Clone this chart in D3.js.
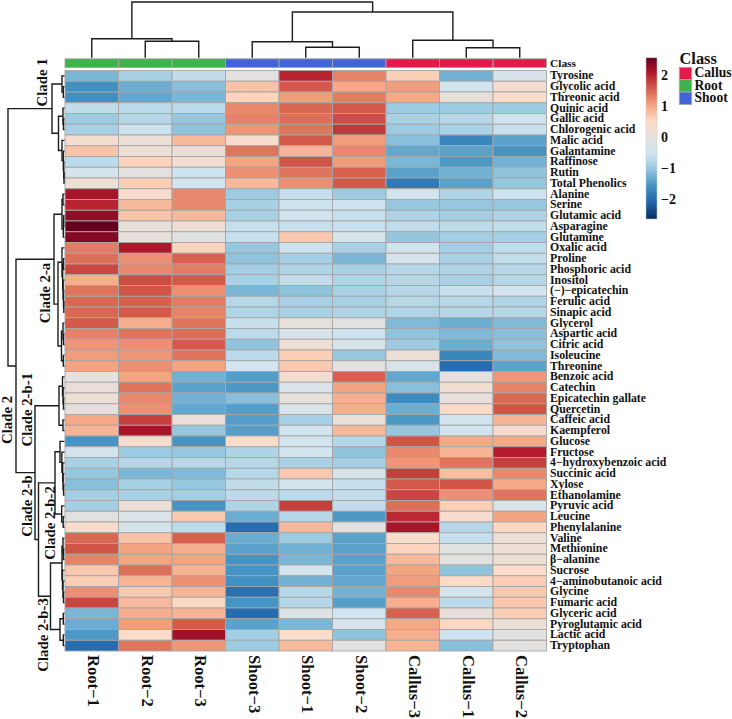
<!DOCTYPE html>
<html>
<head>
<meta charset="utf-8">
<script src="https://cdn.jsdelivr.net/npm/d3@7"></script>
<style>
body { margin: 0; background: #fff; }
svg { display: block; }
text { font-family: "Liberation Serif", serif; font-weight: bold; fill: #111; }
</style>
</head>
<body>
<svg id="canvas"></svg>
<script>
let colLabels = ['Root−1', 'Root−2', 'Root−3', 'Shoot−3', 'Shoot−1', 'Shoot−2', 'Callus−3', 'Callus−1', 'Callus−2']
let colClass = ['Root', 'Root', 'Root', 'Shoot', 'Shoot', 'Shoot', 'Callus', 'Callus', 'Callus']

let rowLabels = ['Tyrosine', 'Glycolic acid', 'Threonic acid', 'Quinic acid', 'Gallic acid', 'Chlorogenic acid',
	'Malic acid', 'Galantamine', 'Raffinose', 'Rutin', 'Total Phenolics', 'Alanine', 'Serine', 'Glutamic acid',
	'Asparagine', 'Glutamine', 'Oxalic acid', 'Proline', 'Phosphoric acid', 'Inositol', '(−)−epicatechin',
	'Ferulic acid', 'Sinapic acid', 'Glycerol', 'Aspartic acid', 'Citric acid', 'Isoleucine', 'Threonine',
	'Benzoic acid', 'Catechin', 'Epicatechin gallate', 'Quercetin', 'Caffeic acid', 'Kaempferol', 'Glucose',
	'Fructose', '4−hydroxybenzoic acid', 'Succinic acid', 'Xylose', 'Ethanolamine', 'Pyruvic acid', 'Leucine',
	'Phenylalanine', 'Valine', 'Methionine', 'β−alanine', 'Sucrose', '4−aminobutanoic acid', 'Glycine',
	'Fumaric acid', 'Glyceric acid', 'Pyroglutamic acid', 'Lactic acid', 'Tryptophan']

// one line per metabolite, same order as colLabels
let values = [
	[-1.2, -0.85, -0.65, 0, 2.0, 1.3, 0.65, -1.25, -0.3],
	[-1.6, -1.3, -1.1, 0.75, 1.6, 1.0, 1.1, -0.5, 0.35],
	[-1.6, -1.35, -1.2, 0.6, 1.1, 1.35, 1.0, 0.1, 0.45],
	[-0.65, -0.7, -0.7, 1.25, 1.5, 1.6, -0.95, -0.95, -0.95],
	[-0.95, -0.75, -1.0, 1.3, 1.45, 1.7, -0.85, -0.75, -0.55],
	[-0.85, -0.55, -1.05, 1.15, 1.4, 1.85, -0.95, -0.85, -0.6],
	[0.35, 0.2, 0.85, 0.4, 1.6, 1.1, -1.1, -1.7, -1.4],
	[0.75, 0.2, 0.15, 1.4, 0.9, 1.25, -1.35, -1.4, -1.55],
	[-0.7, 0.6, 0.3, 1.05, 1.65, 1.1, -1.2, -1.5, -1.25],
	[-0.4, 0, -0.55, 1.2, 1.4, 1.55, -1.4, -1.25, -1.05],
	[0.25, 0.65, -0.45, 0.85, 1.2, 1.6, -1.85, -1.4, -1.0],
	[2.15, 0.4, 1.25, -0.95, -0.6, -0.95, -0.5, -0.8, -0.55],
	[2.0, 0.85, 1.25, -0.85, -0.55, -0.55, -1.0, -1.0, -1.0],
	[2.3, 0.75, 0.85, -0.85, -0.5, -0.6, -0.8, -0.9, -0.8],
	[2.6, 0.1, 0.25, -0.6, -0.6, -0.6, -0.65, -0.7, -0.65],
	[2.4, 0.1, -0.05, -0.6, 0.7, -0.35, -1.0, -0.9, -0.9],
	[1.35, 2.1, 0.6, -1.0, -0.55, -0.85, -0.45, -0.9, -0.65],
	[1.45, 1.2, 1.55, -1.05, -0.9, -1.2, -0.4, -0.85, -0.65],
	[1.75, 1.25, 1.35, -0.9, -0.8, -0.85, -0.75, -0.8, -0.75],
	[0.95, 1.7, 1.6, -0.85, -0.65, -0.8, -0.75, -0.85, -0.75],
	[1.4, 1.65, 1.2, -1.2, -1.05, -0.85, -0.75, -0.6, -0.45],
	[1.5, 1.55, 1.35, -0.75, -0.85, -0.85, -0.75, -0.75, -0.8],
	[1.5, 1.6, 1.3, -0.8, -0.85, -0.8, -0.8, -0.75, -0.75],
	[1.6, 0.95, 1.4, -0.6, 0.1, -0.05, -1.15, -1.3, -1.15],
	[1.3, 1.4, 1.45, -0.7, -0.3, -0.55, -1.05, -1.15, -1.1],
	[1.15, 1.2, 1.6, -1.05, 0.25, -0.35, -0.95, -1.3, -1.05],
	[1.1, 1.15, 1.4, -0.7, 0.65, -1.0, 0.2, -1.7, -1.15],
	[1.05, 1.2, 1.05, -0.45, 0.7, 0, -0.3, -2.0, -1.4],
	[0.03, 1.05, -1.25, -1.45, 0.3, 1.55, -1.35, 0.05, 1.15],
	[0.15, 1.4, -1.4, -1.5, -0.25, 1.05, -1.1, 0.3, 1.3],
	[0.2, 1.25, -1.25, -1.1, 0.1, 0.95, -1.65, 0.1, 1.5],
	[0.05, 1.2, -1.35, -1.45, -0.25, 0.95, -1.3, 0.5, 1.65],
	[1.0, 1.8, 0.15, -1.45, -0.85, 0.15, -1.5, -0.5, 0.9],
	[0.9, 2.15, -1.0, -1.45, -0.5, 0.85, -1.0, -0.5, 0.4],
	[-1.55, 0.35, -1.55, 0.45, -0.5, -0.75, 1.65, 1.0, 1.0],
	[-0.45, -0.95, -1.0, -0.8, -0.5, -1.05, 1.25, 0.9, 2.05],
	[-0.85, -0.75, -0.75, -0.75, -0.85, -0.9, 1.15, 1.4, 1.8],
	[-1.0, -1.2, -1.15, -0.75, 0.7, -0.3, 1.8, 0.8, 1.25],
	[-1.1, -0.85, -1.0, -0.65, -0.5, -0.6, 1.6, 1.65, 1.0],
	[-0.9, -0.85, -0.9, -0.7, -0.7, -0.65, 1.75, 1.2, 1.4],
	[-0.9, 0.2, -1.55, -0.8, 1.8, -0.65, 1.45, 0.65, -0.3],
	[0, -0.25, 0.7, -1.3, -0.75, -1.5, 1.95, 0.4, 1.05],
	[0.4, -0.4, -0.7, -2.0, 0.85, 0, 2.15, -0.75, 0.55],
	[1.5, 0.75, 1.55, -1.3, -0.95, -1.4, 0.45, -0.6, 0.2],
	[1.65, 1.05, 0.95, -1.4, -1.25, -1.4, 0.6, -0.05, 0.25],
	[1.3, 1.05, 1.05, -1.55, -1.2, -1.4, 0.85, 0, 0.2],
	[0.7, 1.45, 0.9, -1.55, -0.5, -1.4, 1.05, -1.05, 0.5],
	[0.65, 0.9, 1.2, -1.6, -1.25, -1.35, 1.1, 0.5, 0.65],
	[1.2, 0.7, 0.9, -1.95, -0.75, -1.25, 1.25, -0.4, 0.7],
	[1.75, 0.85, 0.55, -1.55, -0.75, -1.45, 0.95, -0.7, 0.7],
	[-1.2, 0.95, 0.9, -2.0, -0.15, -0.5, 1.55, 0.1, 0.65],
	[-1.3, 1.1, 1.6, -1.4, -1.2, -0.4, 1.0, 0.55, 0.2],
	[-1.5, 0.45, 2.2, -0.9, 0.45, -1.05, 0.95, -0.55, -0.03],
	[-2.0, 1.4, 1.15, -0.95, 0.85, 0, 0.9, -1.1, 0]
]

// dendrograms: [height, left, right], a plain number is a leaf index
let colTree = [55.5, [19, 0, [16.5, 1, 2]], [45.5, [16, 3, [10.5, 4, 5]], [17.5, 6, [10, 7, 8]]]]

let clade1 = [12.5, [2.5, 0, [1.2, 1, 2]], [6, [1.5, 3, [1, 4, 5]], [2.5, 6, [1.2, 7, [0.8, 8, [0.5, 9, 10]]]]]]
let clade2a = [10.5,
	[2.5, [1.5, 11, 12], [1.2, [0.8, 13, 14], 15]],
	[6.5,
		[2.5, 16, [1.8, [1, 17, 18], [1.4, 19, [1, 20, [0.7, 21, 22]]]]],
		[3, [1.5, 23, [1, 24, 25]], [1.2, 26, 27]]]]
let clade2b1 = [5.5, [2, 28, [1.4, 29, [1, 30, 31]]], [1.5, 32, 33]]
let clade2b2 = [9.5, [4.5, 34, [2.6, 35, [1.8, 36, [1.4, 37, [0.9, 38, 39]]]]], [2.8, 40, [1.3, 41, 42]]]
let clade2b3 = [14,
	[2.5, [1.5, 43, [1, 44, 45]], [2, 46, [1.5, 47, [1, 48, 49]]]],
	[4.5, [1.2, 50, 51], [1.2, 52, 53]]]
let rowTree = [56.5, clade1, [48.5, clade2a, [29.5, clade2b1, [26, clade2b2, clade2b3]]]]

let cladeLabels = ['Clade 1', 'Clade 2', 'Clade 2-a', 'Clade 2-b', 'Clade 2-b-1', 'Clade 2-b-2', 'Clade 2-b-3']
let cladeX = [47, 11.5, 49.5, 32, 32, 54.5, 47.5]
let cladeY = [82.5, 420, 293, 506, 409.7, 523, 635]

let legendClasses = ['Callus', 'Root', 'Shoot']
let legendColors = ['#e6194b', '#3cb44b', '#4363d8']
let colorStops = [-2.6, -2.08, -1.56, -1.04, -0.52, 0, 0.52, 1.04, 1.56, 2.08, 2.6]
let colorRange = ['#053061', '#2166ac', '#4393c3', '#92c5de', '#d1e5f0', '#e2e1df', '#fddbc7', '#f4a582', '#d6604d', '#b2182b', '#67001f']
let barTicks = [-2, -1, 0, 1, 2]

let width = 732
let height = 719
let gridColor = '#a6a6a6'
let left = 65
let right = 546.5
let top_ = 70.5
let bottom = 651

let svg = d3.select('#canvas').attr('width', width).attr('height', height)

let xScale = d3.scaleBand().domain(colLabels).range([left, right])
let yScale = d3.scaleBand().domain(rowLabels).range([top_, bottom])
let color = d3.scaleLinear().domain(colorStops).range(colorRange).clamp(true)
let classColor = d3.scaleOrdinal().domain(legendClasses).range(legendColors)

let drawHeatmap = () => {
	let cells = []
	values.forEach((row, i) => {
		row.forEach((v, j) => {
			cells.push({ row: rowLabels[i], col: colLabels[j], value: v })
		})
	})
	svg.append('g').selectAll('rect')
		.data(cells)
		.enter()
		.append('rect')
		.attr('x', (d) => xScale(d.col))
		.attr('y', (d) => yScale(d.row))
		.attr('width', xScale.bandwidth())
		.attr('height', yScale.bandwidth())
		.attr('fill', (d) => color(d.value))
		.attr('stroke', gridColor)
		.attr('stroke-width', 0.9)
}

let drawClassBar = () => {
	svg.append('g').selectAll('rect')
		.data(colLabels)
		.enter()
		.append('rect')
		.attr('x', (d) => xScale(d))
		.attr('y', 58.8)
		.attr('width', xScale.bandwidth())
		.attr('height', 8.7)
		.attr('fill', (d, i) => classColor(colClass[i]))
		.attr('stroke', gridColor)
		.attr('stroke-width', 0.9)

	svg.append('text')
		.attr('x', 550)
		.attr('y', 66.5)
		.style('font-size', '11.4px')
		.text('Class')
}

// walks a [height, left, right] tree and appends one bracket per node
let drawTree = (g, tree, leafPos, heightPos, horizontal) => {
	let walk = (node) => {
		if (typeof node === 'number') {
			return { pos: leafPos(node), h: heightPos(0) }
		}
		let a = walk(node[1])
		let b = walk(node[2])
		let h = heightPos(node[0])
		let pts = [[a.h, a.pos], [h, a.pos], [h, b.pos], [b.h, b.pos]]
		if (horizontal) pts = pts.map((p) => [p[1], p[0]])
		g.append('path')
			.attr('d', d3.line()(pts))
			.attr('fill', 'none')
			.attr('stroke', '#1c1c1c')
			.attr('stroke-width', 1.4)
		return { pos: (a.pos + b.pos) / 2, h: h }
	}
	walk(tree)
}

let drawDendrograms = () => {
	let colHeight = d3.scaleLinear().domain([0, 55.5]).range([57.8, 2])
	let rowHeight = d3.scaleLinear().domain([0, 56.5]).range([64.5, 8])
	drawTree(svg.append('g'), colTree, (i) => xScale(colLabels[i]) + xScale.bandwidth() / 2, colHeight, true)
	drawTree(svg.append('g'), rowTree, (i) => yScale(rowLabels[i]) + yScale.bandwidth() / 2, rowHeight, false)
}

let drawLabels = () => {
	svg.append('g').selectAll('text')
		.data(rowLabels)
		.enter()
		.append('text')
		.attr('x', 550)
		.attr('y', (d) => yScale(d) + yScale.bandwidth() / 2 + 3.6)
		.style('font-size', '11.8px')
		.text((d) => d)

	svg.append('g').selectAll('text')
		.data(colLabels)
		.enter()
		.append('text')
		.attr('transform', (d) => `translate(${xScale(d) + xScale.bandwidth() / 2 - 3.6}, 655) rotate(90)`)
		.style('font-size', '16.6px')
		.text((d) => d)

	svg.append('g').selectAll('text')
		.data(cladeLabels)
		.enter()
		.append('text')
		.attr('transform', (d, i) => `translate(${cladeX[i]}, ${cladeY[i]}) rotate(-90)`)
		.attr('text-anchor', 'middle')
		.style('font-size', '14.8px')
		.text((d) => d)
}

let drawColorBar = () => {
	let barScale = d3.scaleLinear().domain([-2.63, 2.57]).range([219, 57.8])
	let defs = svg.append('defs')
	let grad = defs.append('linearGradient')
		.attr('id', 'bar')
		.attr('x1', 0).attr('x2', 0).attr('y1', 1).attr('y2', 0)
	grad.selectAll('stop')
		.data(colorStops)
		.enter()
		.append('stop')
		.attr('offset', (d, i) => (barScale(d) - 219) / (57.8 - 219))
		.attr('stop-color', (d) => color(d))

	svg.append('rect')
		.attr('x', 646)
		.attr('y', barScale(2.57))
		.attr('width', 11)
		.attr('height', barScale(-2.63) - barScale(2.57))
		.attr('fill', 'url(#bar)')
		.attr('stroke', '#c8c8c8')
		.attr('stroke-width', 0.5)

	let axis = d3.axisRight(barScale)
		.tickValues(barTicks)
		.tickSize(0)
		.tickPadding(4)
		.tickFormat((d) => (d < 0 ? '−' + Math.abs(d) : d))
	let g = svg.append('g')
		.attr('transform', 'translate(657, 0)')
		.call(axis)
	g.select('.domain').remove()
	g.selectAll('text')
		.style('font-family', '"Liberation Serif", serif')
		.style('font-size', '14px')
}

let drawLegend = () => {
	svg.append('text')
		.attr('x', 679.5)
		.attr('y', 64)
		.style('font-size', '16.4px')
		.text('Class')

	let legendY = d3.scaleBand().domain(legendClasses).range([67.3, 104.5])

	svg.append('g').selectAll('rect')
		.data(legendClasses)
		.enter()
		.append('rect')
		.attr('x', 679.3)
		.attr('y', (d) => legendY(d))
		.attr('width', 12.4)
		.attr('height', legendY.bandwidth())
		.attr('fill', (d) => classColor(d))
		.attr('stroke', gridColor)
		.attr('stroke-width', 0.9)

	svg.append('g').selectAll('text')
		.data(legendClasses)
		.enter()
		.append('text')
		.attr('x', 694.5)
		.attr('y', (d) => legendY(d) + legendY.bandwidth() / 2 + 3.8)
		.style('font-size', '13.6px')
		.text((d) => d)
}

drawHeatmap()
drawClassBar()
drawDendrograms()
drawLabels()
drawColorBar()
drawLegend()
</script>
</body>
</html>
